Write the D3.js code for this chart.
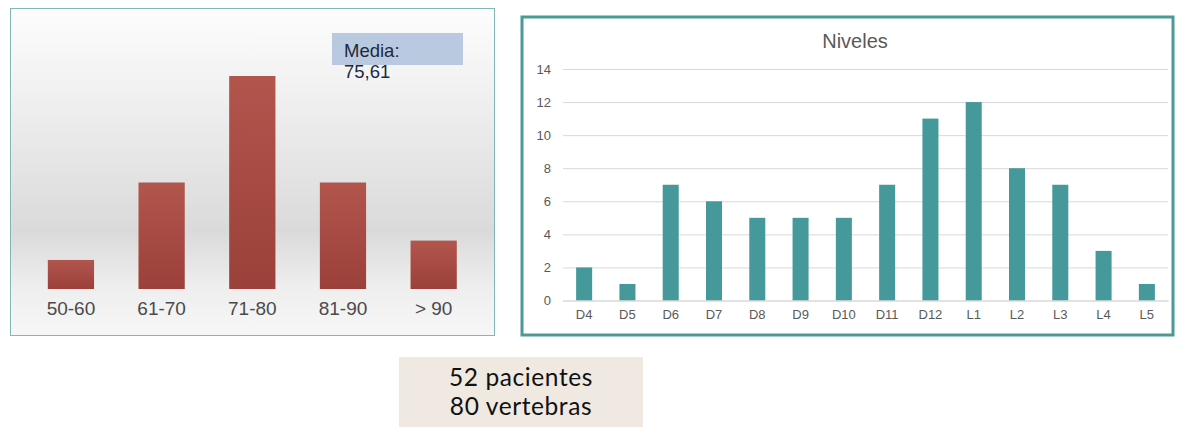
<!DOCTYPE html>
<html><head><meta charset="utf-8">
<script src="https://cdn.jsdelivr.net/npm/d3@7"></script>
<style>html,body{margin:0;padding:0;background:#fff;}svg{display:block;}</style>
</head><body>
<svg id="c" width="1200" height="436"></svg>
<script>
// Left chart: age groups
const ageCategories = ["50-60", "61-70", "71-80", "81-90", "> 90"];
const ageValues = [3, 11, 22, 11, 5];
const meanLabel = ["Media:", "75,61"];
// Right chart: levels
const levelCategories = ["D4","D5","D6","D7","D8","D9","D10","D11","D12","L1","L2","L3","L4","L5"];
const levelValues = [2, 1, 7, 6, 5, 5, 5, 7, 11, 12, 8, 7, 3, 1];
const levelTicks = [0, 2, 4, 6, 8, 10, 12, 14];
const levelTitle = "Niveles";
const summaryLines = ["52 pacientes", "80 vertebras"];

const svg = d3.select("#c");
const defs = svg.append("defs");

const bg = defs.append("linearGradient").attr("id","bgL").attr("x1",0).attr("y1",0).attr("x2",0).attr("y2",1);
[[0,"#fdfdfd"],[0.25,"#f1f1f1"],[0.68,"#dadada"],[0.85,"#eeeeee"],[1,"#f7f7f7"]].forEach(([o,c])=>bg.append("stop").attr("offset",o).attr("stop-color",c));
const barG = defs.append("linearGradient").attr("id","barL").attr("x1",0).attr("y1",0).attr("x2",0).attr("y2",1);
[[0,"#b2554d"],[1,"#9b403a"]].forEach(([o,c])=>barG.append("stop").attr("offset",o).attr("stop-color",c));

// ---- Left panel
svg.append("rect").attr("x",10.5).attr("y",8.5).attr("width",484).attr("height",327)
  .attr("fill","url(#bgL)").attr("stroke","#7fb8b4").attr("stroke-width",1);

const xL = d3.scaleBand().domain(ageCategories).range([25.6, 479]).paddingInner(0.49).paddingOuter(0.245);
const yL = d3.scaleLinear().domain([0, 22]).range([289, 76]);

svg.append("g").selectAll("rect").data(ageValues).join("rect")
  .attr("x",(d,i)=>xL(ageCategories[i])).attr("width",xL.bandwidth())
  .attr("y",d=>yL(d)).attr("height",d=>yL(0)-yL(d))
  .attr("fill","url(#barL)");

const axL = svg.append("g").attr("transform","translate(0,289)")
  .call(d3.axisBottom(xL).tickSize(0).tickPadding(13));
axL.select(".domain").remove();
axL.selectAll("text").attr("font-family","Liberation Sans, Arial, sans-serif").attr("font-size",19).attr("fill","#4a4a4a").attr("dy","0.71em");

svg.append("rect").attr("x",332).attr("y",33).attr("width",131).attr("height",32).attr("fill","#b9c9e0");
svg.append("text").attr("font-family","Liberation Sans, Arial, sans-serif").attr("font-size",18.5).attr("fill","#1f2a3a")
  .selectAll("tspan").data(meanLabel).join("tspan").attr("x",344).attr("y",(d,i)=>57+i*21).text(d=>d);

// ---- Right panel
svg.append("rect").attr("x",522).attr("y",17).attr("width",651).attr("height",318)
  .attr("fill","#fff").attr("stroke","#4a9a95").attr("stroke-width",3);

svg.append("text").attr("x",855).attr("y",48).attr("text-anchor","middle")
  .attr("font-family","Liberation Sans, Arial, sans-serif").attr("font-size",20).attr("fill","#595959").text(levelTitle);

const xR = d3.scaleBand().domain(levelCategories).range([562.5, 1168.5]).paddingInner(0.63).paddingOuter(0.315);
const yR = d3.scaleLinear().domain([0, 14]).range([300.5, 69]);

const gy = svg.append("g").attr("transform","translate(563,0)")
  .call(d3.axisLeft(yR).tickValues(levelTicks).tickSize(-605).tickPadding(12));
gy.select(".domain").remove();
gy.selectAll(".tick line").attr("stroke","#d9d9d9").attr("stroke-width",1);
gy.selectAll("text").attr("font-family","Liberation Sans, Arial, sans-serif").attr("font-size",13).attr("fill","#595959");

svg.append("g").selectAll("rect").data(levelValues).join("rect")
  .attr("x",(d,i)=>xR(levelCategories[i])).attr("width",xR.bandwidth())
  .attr("y",d=>yR(d)).attr("height",d=>yR(0)-yR(d)).attr("fill","#45999a");

const gx = svg.append("g").attr("transform","translate(0,300.5)")
  .call(d3.axisBottom(xR).tickSize(0).tickPadding(9));
gx.select(".domain").attr("stroke","#d9d9d9");
gx.selectAll("text").attr("font-family","Liberation Sans, Arial, sans-serif").attr("font-size",13).attr("fill","#595959");

// ---- Summary box
svg.append("rect").attr("x",399).attr("y",357).attr("width",244).attr("height",70).attr("fill","#efe9e1");
svg.append("text").attr("text-anchor","middle").attr("font-family","Lato, sans-serif").attr("font-size",24.5).attr("letter-spacing",0.6).attr("fill","#111")
  .selectAll("tspan").data(summaryLines).join("tspan").attr("x",521).attr("y",(d,i)=>386+i*28.5).text(d=>d);
</script>
</body></html>
